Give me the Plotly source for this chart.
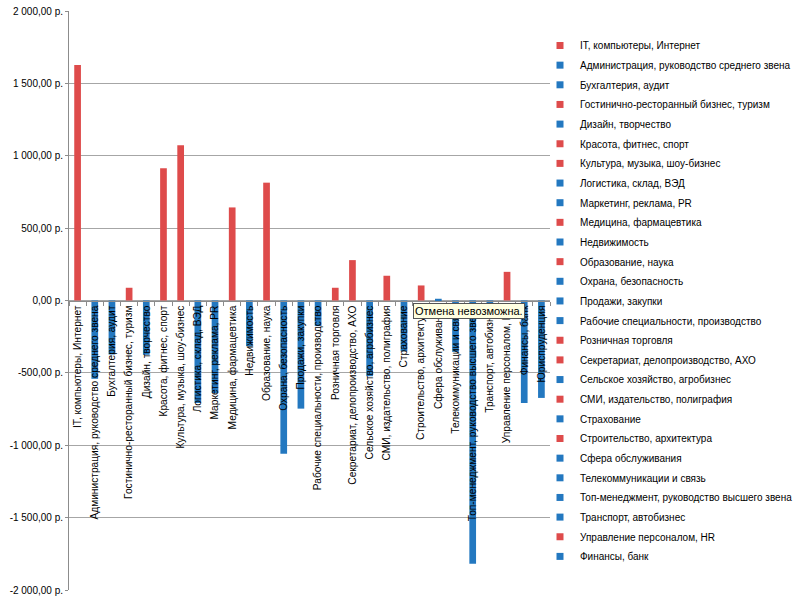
import plotly.graph_objects as go

categories = [
    "IT, компьютеры, Интернет",
    "Администрация, руководство среднего звена",
    "Бухгалтерия, аудит",
    "Гостинично-ресторанный бизнес, туризм",
    "Дизайн, творчество",
    "Красота, фитнес, спорт",
    "Культура, музыка, шоу-бизнес",
    "Логистика, склад, ВЭД",
    "Маркетинг, реклама, PR",
    "Медицина, фармацевтика",
    "Недвижимость",
    "Образование, наука",
    "Охрана, безопасность",
    "Продажи, закупки",
    "Рабочие специальности, производство",
    "Розничная торговля",
    "Секретариат, делопроизводство, АХО",
    "Сельское хозяйство, агробизнес",
    "СМИ, издательство, полиграфия",
    "Страхование",
    "Строительство, архитектура",
    "Сфера обслуживания",
    "Телекоммуникации и связь",
    "Топ-менеджмент, руководство высшего звена",
    "Транспорт, автобизнес",
    "Управление персоналом, HR",
    "Финансы, банк",
    "Юриспруденция",
]

values = [
    1627, -541, -373, 88, -375, 913, 1072, -708, -639, 643,
    -316, 814, -1058, -747, -177, 88, 279, -523, 171, -350,
    104, 12, -355, -1819, -40, 198, -708, -673,
]

# colour group of each category ("r" = red, "b" = blue)
groups = [
    "r", "b", "b", "r", "b", "r", "r", "b", "b", "r",
    "b", "r", "b", "b", "b", "r", "r", "b", "r", "b",
    "r", "b", "b", "b", "b", "r", "b", "b",
]

y_tickvals = [2000, 1500, 1000, 500, 0, -500, -1000, -1500, -2000]
y_ticktext = ["2 000,00 р.", "1 500,00 р.", "1 000,00 р.", "500,00 р.", "0,00 р.",
              "-500,00 р.", "-1 000,00 р.", "-1 500,00 р.", "-2 000,00 р."]

tooltip_text = "Отмена невозможна."

RED = "#DE4B4B"
BLUE = "#2378C0"
col = {"r": RED, "b": BLUE}
FONT = "Liberation Sans"

fig = go.Figure()
fig.add_trace(go.Bar(
    x=categories, y=values,
    marker=dict(color=[col[g] for g in groups], line=dict(width=0)),
    width=0.39, showlegend=False,
))

# legend entries (the last category is cut off in the original legend)
for i, (name, g) in enumerate(zip(categories[:-1], groups[:-1])):
    fig.add_trace(go.Scatter(
        x=[None], y=[None], mode="markers", name=name,
        legendgroup=f"g{i}",
        marker=dict(symbol="square", size=7, color=col[g]),
    ))

fig.add_annotation(
    text=tooltip_text, xref="paper", yref="paper",
    x=(413 - 69) / 481, y=(590 - 303) / 579,
    xanchor="left", yanchor="top", showarrow=False,
    font=dict(family=FONT, size=11, color="#000000"),
    bgcolor="#FFFFE1", bordercolor="#555555", borderwidth=1, borderpad=1,
)

fig.update_layout(
    width=800, height=600,
    margin=dict(l=69, r=250, t=11, b=10, autoexpand=False),
    paper_bgcolor="white", plot_bgcolor="white",
    font=dict(family=FONT, size=11, color="#000000"),
    legend=dict(
        x=(540 - 69) / 481, y=1 - (31 - 11) / 579, xanchor="left", yanchor="top",
        font=dict(family=FONT, size=10, color="#000000"),
        tracegroupgap=0.65, itemwidth=30,
        bgcolor="rgba(0,0,0,0)",
    ),
    xaxis=dict(
        type="category", anchor="free", position=0.5, automargin=False,
        tickangle=-90, showgrid=False,
        showline=True, linecolor="#8C8C8C", linewidth=1,
        ticks="outside", ticklen=4, tickcolor="#8C8C8C", tickson="boundaries",
        tickfont=dict(family=FONT, size=10.2, color="#000000"),
        range=[-0.5, len(categories) - 0.5],
    ),
    yaxis=dict(
        range=[-2000, 2000], tickvals=y_tickvals, ticktext=y_ticktext,
        automargin=False,
        showgrid=True, gridcolor="#A6A6A6", gridwidth=1,
        zeroline=False,
        showline=True, linecolor="#8C8C8C", linewidth=1,
        ticks="outside", ticklen=3, tickcolor="#8C8C8C",
        tickfont=dict(family=FONT, size=10, color="#000000"),
    ),
)

fig.write_html("out.html", config={"displayModeBar": False},
               post_script="document.body.style.margin='0';")
